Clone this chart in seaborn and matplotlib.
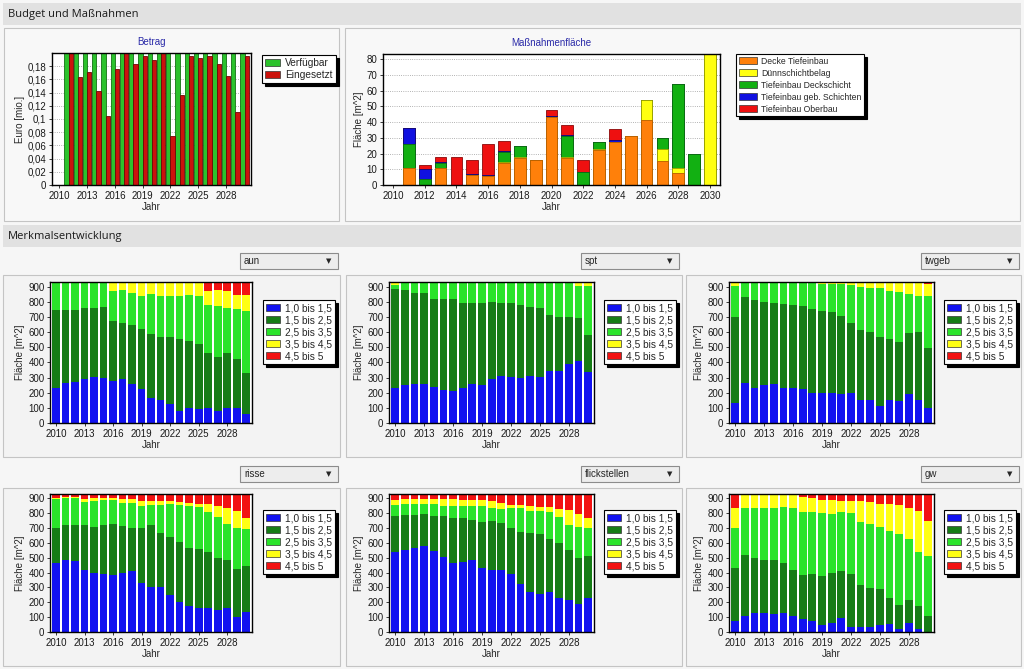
import matplotlib
matplotlib.use("Agg")
import numpy as np
import pandas as pd
import seaborn as sns
import matplotlib.pyplot as plt
from matplotlib.patches import Rectangle, Patch

# ------------------- Daten -------------------
jahre = [str(j) for j in range(2010, 2031)]

# Budget (Mio. Euro)
verfuegbar = [0, 0.2, 0.2, 0.2, 0.2, 0.2, 0.2, 0.2, 0.2, 0.2, 0.2,
              0.2, 0.2, 0.2, 0.2, 0.2, 0.2, 0.2, 0.2, 0.2, 0.2]
eingesetzt = [0, 0.2, 0.163, 0.171, 0.143, 0.104, 0.176, 0.2, 0.184, 0.196, 0.19,
              0.2, 0.075, 0.137, 0.196, 0.192, 0.196, 0.184, 0.165, 0.11, 0.196]

# Maßnahmenfläche [m^2] je Maßnahme
decke_tiefeinbau = [0, 10.5, 0, 10.5, 0, 6.5, 6, 14, 17, 16, 43,
                    17, 0, 22, 27.5, 31, 41.5, 15, 7.5, 0, 0]
duennschicht = [0, 0, 0, 0, 0, 0, 0, 0.5, 1, 0, 0,
                1, 0, 1, 0, 0, 12.5, 8, 3, 0, 83.2]
tb_deckschicht = [0, 15.5, 4, 3.5, 0, 0, 0, 6.5, 7, 0, 0,
                  13, 8, 4, 0, 0, 0, 7, 53.5, 19.5, 0]
tb_geb_schichten = [0, 10, 6, 0.4, 0, 0.5, 0.6, 0.5, 0, 0, 1,
                    0.5, 0.5, 0, 1, 0, 0, 0, 0, 0, 0]
tb_oberbau = [0, 0, 3, 3.6, 18, 9, 19.4, 6.5, 0, 0, 3.5,
              6.5, 7.5, 0, 7, 0, 0, 0, 0, 0, 0]
massnahmen_namen = ["Decke Tiefeinbau", "Dünnschichtbelag", "Tiefeinbau Deckschicht",
                    "Tiefeinbau geb. Schichten", "Tiefeinbau Oberbau"]

# Merkmalsentwicklung: Obergrenzen (kumuliert) der Klassen 1,0-1,5 / 1,5-2,5 / 2,5-3,5 / 3,5-4,5
gesamtflaeche = 930
klassen = ["1,0 bis 1,5", "1,5 bis 2,5", "2,5 bis 3,5", "3,5 bis 4,5", "4,5 bis 5"]

aun_k1 = [232, 262, 272, 290, 305, 297, 280, 290, 258, 222, 168, 155, 125, 78, 100, 95, 102, 78, 100, 98, 58]
aun_k2 = [743, 743, 748, 756, 756, 762, 672, 660, 645, 622, 590, 568, 568, 552, 542, 522, 465, 435, 460, 420, 332]
aun_k3 = [930, 930, 930, 930, 930, 922, 872, 875, 860, 838, 848, 840, 840, 840, 842, 835, 780, 775, 760, 755, 740]
aun_k4 = [930, 930, 930, 930, 930, 930, 930, 930, 930, 930, 930, 930, 930, 930, 922, 922, 870, 875, 868, 845, 845]

spt_k1 = [230, 250, 258, 260, 238, 215, 210, 232, 258, 250, 290, 308, 305, 298, 308, 305, 340, 340, 392, 410, 335]
spt_k2 = [885, 878, 858, 858, 818, 815, 818, 790, 790, 790, 800, 792, 790, 780, 768, 758, 710, 700, 700, 690, 580]
spt_k3 = [910, 930, 930, 930, 930, 930, 930, 930, 930, 930, 930, 930, 930, 930, 930, 930, 930, 930, 930, 905, 905]
spt_k4 = [930, 930, 930, 930, 930, 930, 930, 930, 930, 930, 930, 930, 930, 930, 930, 930, 930, 930, 930, 930, 930]

twgeb_k1 = [130, 262, 228, 250, 255, 232, 232, 222, 200, 195, 195, 190, 195, 152, 152, 110, 150, 145, 190, 155, 98]
twgeb_k2 = [700, 830, 812, 800, 792, 788, 780, 775, 755, 738, 735, 703, 658, 615, 600, 565, 552, 535, 595, 598, 495]
twgeb_k3 = [905, 930, 930, 930, 922, 922, 922, 922, 922, 920, 917, 917, 912, 900, 890, 890, 872, 862, 850, 840, 838]
twgeb_k4 = [930, 930, 930, 930, 930, 930, 930, 930, 930, 930, 930, 930, 930, 930, 930, 930, 930, 930, 930, 930, 918]

risse_k1 = [462, 488, 478, 418, 398, 392, 385, 398, 408, 330, 300, 305, 252, 205, 172, 162, 160, 145, 160, 100, 138]
risse_k2 = [698, 718, 718, 718, 708, 718, 728, 712, 702, 700, 718, 665, 638, 608, 565, 562, 540, 498, 485, 425, 448]
risse_k3 = [895, 900, 900, 878, 885, 888, 888, 868, 872, 852, 855, 858, 860, 858, 852, 845, 808, 772, 728, 700, 695]
risse_k4 = [900, 910, 908, 898, 900, 902, 902, 895, 898, 885, 885, 885, 885, 875, 868, 860, 860, 850, 838, 815, 768]

flick_k1 = [540, 555, 565, 578, 548, 505, 465, 470, 488, 432, 418, 415, 388, 322, 268, 255, 268, 232, 215, 192, 232]
flick_k2 = [785, 790, 790, 798, 785, 782, 768, 770, 752, 740, 750, 732, 702, 675, 668, 660, 628, 598, 555, 500, 510]
flick_k3 = [855, 860, 860, 860, 860, 848, 848, 848, 848, 848, 838, 828, 835, 835, 818, 818, 808, 775, 722, 705, 700]
flick_k4 = [890, 895, 895, 895, 895, 895, 895, 888, 888, 888, 885, 872, 858, 858, 850, 845, 845, 832, 822, 792, 768]

gw_k1 = [75, 110, 125, 130, 120, 125, 110, 88, 75, 45, 62, 92, 32, 32, 32, 45, 55, 22, 60, 22, 0]
gw_k2 = [430, 520, 500, 488, 482, 462, 418, 385, 390, 375, 398, 412, 388, 320, 295, 290, 232, 185, 215, 175, 110]
gw_k3 = [700, 835, 835, 835, 838, 842, 835, 808, 810, 800, 795, 808, 805, 740, 730, 705, 680, 660, 625, 540, 515]
gw_k4 = [835, 930, 930, 930, 930, 930, 930, 912, 905, 890, 890, 882, 885, 885, 878, 865, 865, 858, 838, 818, 750]

# ------------------- Stil -------------------
sns.set_style("white")
plt.rcParams["font.family"] = ["Liberation Sans", "DejaVu Sans"]
plt.rcParams["axes.linewidth"] = 1.0

W, H = 1024, 669
fig = plt.figure(figsize=(W / 100, H / 100), dpi=100, facecolor="#f6f6f6")

klassen_farben = ["#1212f0", "#167c16", "#2ae32a", "#ffff14", "#f21212"]
mass_farben = ["#ff800a", "#ffff10", "#12b012", "#1010e0", "#ee1010"]
mass_kanten = ["#b85a00", "#a0a000", "#0a700a", "#08087a", "#8a0808"]


def px_box(l, t, r, b):
    return [l / W, 1 - b / H, (r - l) / W, (b - t) / H]


def rect(l, t, r, b, fc, ec="none", lw=0.8):
    fig.add_artist(Rectangle((l / W, 1 - b / H), (r - l) / W, (b - t) / H,
                             transform=fig.transFigure, facecolor=fc,
                             edgecolor=ec, lw=lw, zorder=-5))


def header(t, b, text):
    rect(3, t, 1021, b, "#e1e1e1")
    fig.text(8 / W, 1 - (t + b) / 2 / H, text, fontsize=8, va="center",
             family=["Open Sans", "DejaVu Sans"], color="#1a1a1a")


def dropdown(l, t, r, b, text):
    rect(l, t, r, b, "#ededed", "#8c8c8c", 0.8)
    fig.text((l + 4) / W, 1 - (t + b) / 2 / H, text, fontsize=7, va="center")
    fig.text((r - 9) / W, 1 - (t + b) / 2 / H, "▼", fontsize=5, va="center",
             ha="center", family="DejaVu Sans")


def legende(ax, farben, namen, l, t, fs=7.3, hl=1.5, ls=0.2):
    handles = [Patch(facecolor=c, edgecolor="#333333", lw=0.5, label=n)
               for c, n in zip(farben, namen)]
    leg = ax.legend(handles=handles, loc="upper left", bbox_to_anchor=(l / W, 1 - t / H),
                    bbox_transform=fig.transFigure, borderaxespad=0, frameon=True,
                    fancybox=False, shadow={"color": "black", "alpha": 1},
                    edgecolor="black", facecolor="white", framealpha=1, fontsize=fs,
                    handlelength=hl, handleheight=0.75, labelspacing=ls,
                    borderpad=0.3, handletextpad=0.5)
    leg.get_frame().set_linewidth(0.8)


def achsen_stil(ax):
    for s in ax.spines.values():
        s.set_color("black")
        s.set_linewidth(1.0)
    ax.tick_params(axis="both", labelsize=7, length=2, width=0.6, pad=2,
                   left=True, bottom=True, colors="#1a1a1a")
    ax.set_facecolor("white")


# ------------------- Hintergrund / Rahmen -------------------
header(3, 25, "Budget und Maßnahmen")
rect(4, 28, 339, 221, "#f8f8f8", "#c4c4c4")
rect(345, 28, 1020, 221, "#f8f8f8", "#c4c4c4")
header(225, 247, "Merkmalsentwicklung")

spalten = [(3, 340), (346, 682), (686, 1021)]
for l, r in spalten:
    rect(l, 275, r, 457, "#f3f3f3", "#c4c4c4")
    rect(l, 488, r, 666, "#f3f3f3", "#c4c4c4")

# ------------------- Betrag -------------------
ax1 = fig.add_axes(px_box(52, 53, 251, 185))
betrag_df = pd.DataFrame({
    "Jahr": jahre * 2,
    "Euro": verfuegbar + eingesetzt,
    "Art": ["Verfügbar"] * len(jahre) + ["Eingesetzt"] * len(jahre),
})
ax1.grid(True, ls=":", color="#9a9a9a", lw=0.6)
ax1.set_axisbelow(True)
sns.barplot(data=betrag_df, x="Jahr", y="Euro", hue="Art",
            palette=["#2cc22c", "#cc120c"], width=0.92, saturation=1,
            legend=False, linewidth=0.6, ax=ax1)
for cont, ec in zip(ax1.containers, ["#137013", "#6e0606"]):
    for p in cont:
        p.set_edgecolor(ec)
achsen_stil(ax1)
ax1.set_xlim(-0.8, 20.7)
ax1.set_ylim(0, 0.2)
ax1.set_yticks(np.arange(0, 0.19, 0.02))
ax1.set_yticklabels([f"{v:g}".replace(".", ",") for v in np.round(np.arange(0, 0.19, 0.02), 2)])
ax1.set_xticks(range(0, 21, 3))
ax1.set_xticklabels(jahre[::3])
ax1.set_xlabel("Jahr", fontsize=7, labelpad=1)
ax1.set_ylabel("Euro [mio.]", fontsize=7, labelpad=2)
ax1.set_title("Betrag", fontsize=7, color="#2a2aa8", pad=6)
legende(ax1, ["#2cc22c", "#cc120c"], ["Verfügbar", "Eingesetzt"], 262, 55)

# ------------------- Maßnahmenfläche -------------------
ax2 = fig.add_axes(px_box(383, 54, 720, 185))
ax2.grid(True, ls=":", color="#9a9a9a", lw=0.6)
ax2.set_axisbelow(True)
stapel = np.cumsum(np.array([decke_tiefeinbau, duennschicht, tb_deckschicht,
                             tb_geb_schichten, tb_oberbau]), axis=0)
for i in range(4, -1, -1):
    sns.barplot(x=jahre, y=stapel[i], color=mass_farben[i], saturation=1,
                width=0.74, edgecolor=mass_kanten[i], linewidth=0.6, ax=ax2)
achsen_stil(ax2)
ax2.set_xlim(-0.63, 20.63)
ax2.set_ylim(0, 83.2)
ax2.set_yticks(range(0, 81, 10))
ax2.set_xticks(range(0, 21, 2))
ax2.set_xticklabels(jahre[::2])
ax2.set_xlabel("Jahr", fontsize=7, labelpad=1)
ax2.set_ylabel("Fläche [m^2]", fontsize=7, labelpad=2)
ax2.set_title("Maßnahmenfläche", fontsize=7, color="#2a2aa8", pad=6)
legende(ax2, mass_farben, massnahmen_namen, 736, 54, fs=6.2, hl=2.1, ls=0.35)

# ------------------- Merkmalsentwicklung -------------------
merkmale = [
    ("aun", (aun_k1, aun_k2, aun_k3, aun_k4), 0, 0),
    ("spt", (spt_k1, spt_k2, spt_k3, spt_k4), 1, 0),
    ("twgeb", (twgeb_k1, twgeb_k2, twgeb_k3, twgeb_k4), 2, 0),
    ("risse", (risse_k1, risse_k2, risse_k3, risse_k4), 0, 1),
    ("flickstellen", (flick_k1, flick_k2, flick_k3, flick_k4), 1, 1),
    ("gw", (gw_k1, gw_k2, gw_k3, gw_k4), 2, 1),
]
achsen_x = [(50, 252), (389, 594), (729, 934)]
achsen_y = [(282, 423), (494, 632)]
legende_x = [263, 604, 944]
legende_y = [300, 510]
dropdown_x = [(240, 338), (581, 679), (921, 1019)]
dropdown_y = [(253, 269), (466, 482)]

for name, stufen, sp, ze in merkmale:
    l, r = achsen_x[sp]
    t, b = achsen_y[ze]
    ax = fig.add_axes(px_box(l, t, r, b))
    ebenen = list(stufen) + [[gesamtflaeche] * len(jahre)]
    for i in range(4, -1, -1):
        sns.barplot(x=jahre, y=ebenen[i], color=klassen_farben[i], saturation=1,
                    width=0.8, linewidth=0, ax=ax)
    achsen_stil(ax)
    ax.set_xlim(-0.63, 20.6)
    ax.set_ylim(0, gesamtflaeche)
    ax.set_yticks(range(0, 901, 100))
    ax.set_xticks(range(0, 21, 3))
    ax.set_xticklabels(jahre[::3])
    ax.set_xlabel("Jahr", fontsize=7, labelpad=1)
    ax.set_ylabel("Fläche [m^2]", fontsize=7, labelpad=2)
    legende(ax, klassen_farben, klassen, legende_x[sp], legende_y[ze], fs=7.3, hl=1.4)
    dl, dr = dropdown_x[sp]
    dt, db = dropdown_y[ze]
    dropdown(dl, dt, dr, db, name)

plt.savefig("out.png", dpi=100, facecolor=fig.get_facecolor())
